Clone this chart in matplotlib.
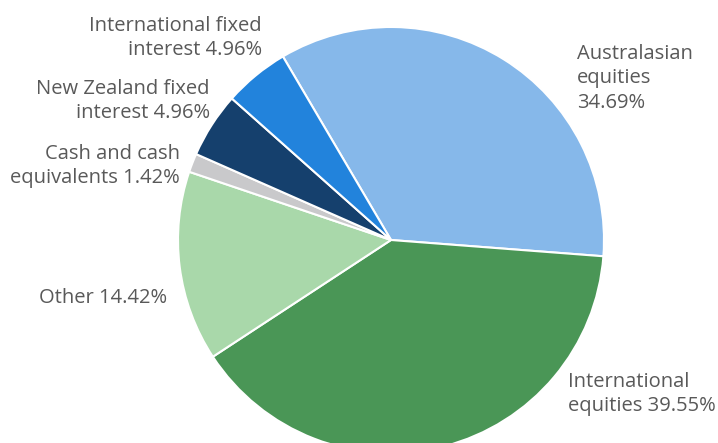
import matplotlib.pyplot as plt

plt.rcParams['font.family'] = ['Open Sans', 'DejaVu Sans']

# slices in clockwise order starting from the top boundary
labels = ['Australasian\nequities\n34.69%', 'International\nequities 39.55%', 'Other 14.42%',
          'Cash and cash\nequivalents 1.42%', 'New Zealand fixed\ninterest 4.96%',
          'International fixed\ninterest 4.96%']
values = [34.69, 39.55, 14.42, 1.42, 4.96, 4.96]
colors = ['#86b8ea', '#4a9656', '#a9d8aa', '#c9c9cb', '#15406d', '#2283dc']

# label anchor positions in pixels (x, y from top), alignment
label_pos = [(577, 78, 'left'), (568, 394, 'left'), (167, 298, 'right'),
             (180, 166, 'right'), (210, 101, 'right'), (262, 38, 'right')]

W, H = 718, 443
fig = plt.figure(figsize=(W / 100, H / 100), dpi=100)
ax = fig.add_axes([0, 0, 1, 1])

cx, cy, r = 391, H - 240, 213
ax.pie(values, colors=colors, startangle=120.5, counterclock=False, center=(cx, cy),
       radius=r, wedgeprops=dict(edgecolor='white', linewidth=1.5), frame=True)
ax.set_xlim(0, W)
ax.set_ylim(0, H)
ax.set_aspect('equal')
ax.axis('off')

for lab, (x, y, ha) in zip(labels, label_pos):
    ax.text(x, H - y, lab, ha=ha, va='center', multialignment=ha, fontsize=14.5,
            color='#595959', linespacing=1.3)

fig.savefig('out.png', dpi=100)
